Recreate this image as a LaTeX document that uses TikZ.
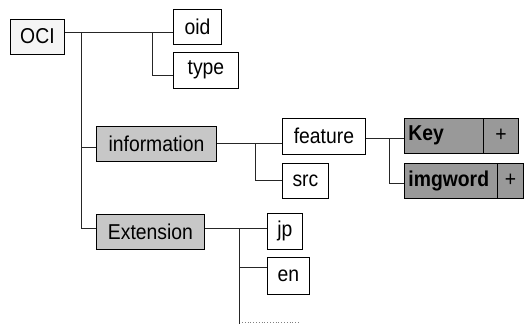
\documentclass[tikz,border=0pt]{standalone}
\usepackage{fontspec}
\setmainfont{Liberation Sans}[FakeStretch=0.9]
\begin{document}
\begin{tikzpicture}[x=1pt,y=-1pt,
  box/.style={draw=black,line width=0.9pt,inner sep=0pt,anchor=west,minimum height=35pt,font=\fontsize{21.5}{24}\selectfont},
  plain/.style={box,fill=white},
  light/.style={box,fill=black!22},
  dark/.style={box,fill=black!40,font=\fontsize{21.5}{24}\selectfont\bfseries},
  darkl/.style={dark,inner xsep=4pt,align=left},
  conn/.style={draw=black!85,line width=0.7pt}]
\useasboundingbox (0,0) rectangle (524,324);
\node[plain,minimum width=54pt,fill=black!4] (oci) at (10,36.5) {OCI};
\node[plain,minimum width=48pt] (oid) at (173,26.5) {oid};
\node[plain,minimum width=65pt,minimum height=36pt] (type) at (173,70) {type};
\node[light,minimum width=120pt] (info) at (96,143.5) {information};
\node[plain,minimum width=83pt,minimum height=36pt] (feature) at (282,136) {feature};
\node[plain,minimum width=46pt] (src) at (282,180.5) {src};
\node[darkl,text width=71pt] (key) at (404,135.5) {Key};
\node[dark,minimum width=35pt,font=\fontsize{21.5}{24}\selectfont] (keyp) at (483,135.5) {+};
\node[darkl,text width=85pt] (img) at (404,180.5) {imgword};
\node[dark,minimum width=26pt,font=\fontsize{21.5}{24}\selectfont] (imgp) at (497,180.5) {+};
\node[light,minimum width=108pt] (ext) at (96,231.5) {Extension};
\node[plain,minimum width=35pt,minimum height=36pt] (jp) at (267,231) {jp};
\node[plain,minimum width=42pt,minimum height=37pt] (en) at (267,275.5) {en};
% junction coordinates
\coordinate (t0) at (81,32);
\coordinate (t1) at (152,32);
\coordinate (t1b) at (152,75);
\coordinate (ti) at (81,147);
\coordinate (te) at (81,228);
\coordinate (f0) at (255,143);
\coordinate (f1) at (255,180);
\coordinate (k0) at (389,138);
\coordinate (k1) at (389,183);
\coordinate (e0) at (239,228);
\coordinate (e1) at (239,267);
\coordinate (e2) at (239,324);
\coordinate (d0) at (242,322.5);
\coordinate (d1) at (300,322.5);
% connectors
\draw[conn] (oci.east |- t0) -- (oid.west |- t0);
\draw[conn] (t1) -- (t1b) -- (type.west |- t1b);
\draw[conn] (t0) -- (te) -- (ext.west |- te);
\draw[conn] (ti) -- (info.west |- ti);
\draw[conn] (info.east |- f0) -- (feature.west |- f0);
\draw[conn] (f0) -- (f1) -- (src.west |- f1);
\draw[conn] (feature.east |- k0) -- (key.west |- k0);
\draw[conn] (k0) -- (k1) -- (img.west |- k1);
\draw[conn] (ext.east |- e0) -- (jp.west |- e0);
\draw[conn] (e0) -- (e2);
\draw[conn] (e1) -- (en.west |- e1);
\draw[black!50,line width=0.8pt,dotted] (d0) -- (d1);
\end{tikzpicture}
\end{document}
